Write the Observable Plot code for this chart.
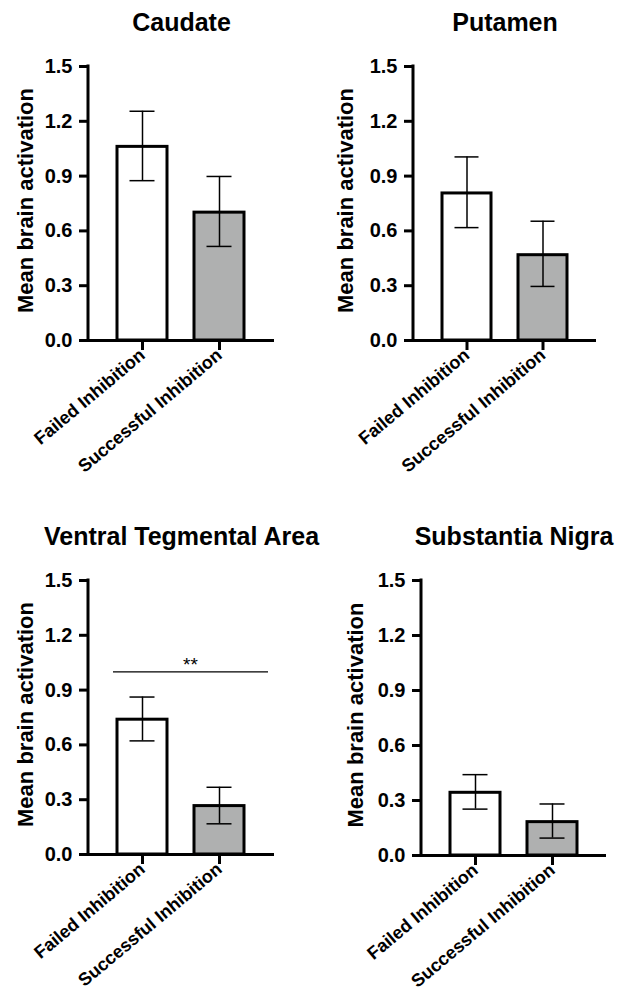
<!DOCTYPE html>
<html><head><meta charset="utf-8">
<script src="https://cdn.jsdelivr.net/npm/d3@7"></script>
<script src="https://cdn.jsdelivr.net/npm/@observablehq/plot@0.6"></script>
<style>
body{margin:0;background:#fff;font-family:"Liberation Sans",Arial,sans-serif;}
#grid{position:relative;width:618px;height:992px;}
.panel{position:absolute;width:309px;height:496px;}
.panel svg{overflow:visible;background:transparent;}
</style></head><body><div id="grid"></div>
<script>
// ---- data ----
const regions = ["Caudate", "Putamen", "Ventral Tegmental Area", "Substantia Nigra"];
const conditions = ["Failed Inhibition", "Successful Inhibition"];
const conditionFills = ["#ffffff", "#afb0b0"];
const caudateMean = [1.06, 0.70];
const caudateLow = [0.875, 0.515];
const caudateHigh = [1.255, 0.898];
const putamenMean = [0.805, 0.467];
const putamenLow = [0.618, 0.296];
const putamenHigh = [1.005, 0.653];
const vtaMean = [0.738, 0.265];
const vtaLow = [0.622, 0.168];
const vtaHigh = [0.862, 0.368];
const snMean = [0.342, 0.182];
const snLow = [0.253, 0.095];
const snHigh = [0.441, 0.281];
const yTicks = [0, 0.3, 0.6, 0.9, 1.2, 1.5];
const yLabel = "Mean brain activation";
const significance = [null, null, {y: 1.0, label: "**"}, null];

const means = [caudateMean, putamenMean, vtaMean, snMean];
const lows = [caudateLow, putamenLow, vtaLow, snLow];
const highs = [caudateHigh, putamenHigh, vtaHigh, snHigh];

// ---- layout ----
const layout = [
  {left: 0,   top: 0,   mL: 88,  mR: 35, mT: 66, mB: 156, labelDx: -63},
  {left: 309, top: 0,   mL: 104, mR: 22, mT: 66, mB: 156, labelDx: -68},
  {left: 0,   top: 496, mL: 88,  mR: 35, mT: 84, mB: 138, labelDx: -63},
  {left: 309, top: 496, mL: 112, mR: 12, mT: 84, mB: 137, labelDx: -66}
];

const grid = document.getElementById("grid");

regions.forEach((region, i) => {
  const data = conditions.map((c, j) => ({
    condition: c, mean: means[i][j], low: lows[i][j], high: highs[i][j], fill: conditionFills[j]
  }));
  const L = layout[i];
  const sig = significance[i];
  const yAxisLine = (index, scales, values, dimensions) => {
    const ns = "http://www.w3.org/2000/svg";
    const g = document.createElementNS(ns, "g");
    const ln = document.createElementNS(ns, "line");
    ln.setAttribute("x1", dimensions.marginLeft);
    ln.setAttribute("x2", dimensions.marginLeft);
    ln.setAttribute("y1", scales.y(yTicks[yTicks.length - 1]) - 1.5);
    ln.setAttribute("y2", scales.y(0) + 1.5);
    ln.setAttribute("stroke", "black");
    ln.setAttribute("stroke-width", 3);
    g.appendChild(ln);
    return g;
  };
  const marks = [
    Plot.barY(data, {x: "condition", y: "mean", fill: "fill", stroke: "black", strokeWidth: 3}),
    Plot.ruleX(data, {x: "condition", y1: "low", y2: "high", stroke: "black", strokeWidth: 1.5}),
    Plot.tickY(data, {x: "condition", y: "high", stroke: "black", strokeWidth: 1.5, insetLeft: 12.5, insetRight: 12.5}),
    Plot.tickY(data, {x: "condition", y: "low", stroke: "black", strokeWidth: 1.5, insetLeft: 12.5, insetRight: 12.5}),
    Plot.ruleY([0], {stroke: "black", strokeWidth: 3}),
    yAxisLine,
    Plot.axisY({ticks: yTicks, tickSize: 9, tickPadding: 7, tickFormat: d3.format(".1f"),
      fontSize: 20, fontWeight: "bold", strokeWidth: 3, fill: "black", stroke: "black", label: null}),
    Plot.axisX({tickSize: 10, tickPadding: 2, strokeWidth: 3, tickRotate: -40, fontSize: 18,
      fontWeight: "bold", fill: "black", stroke: "black", label: null}),
    Plot.text([region], {frameAnchor: "top", dy: -44, fontSize: 25, fontWeight: "bold", fill: "black", lineAnchor: "middle"}),
    Plot.text([yLabel], {frameAnchor: "left", dx: L.labelDx, dy: -3, rotate: -90, fontSize: 22, fontWeight: "bold", fill: "black", lineAnchor: "middle", textAnchor: "middle"})
  ];
  if (sig) {
    marks.push(Plot.ruleY([sig.y], {stroke: "black", strokeWidth: 1.2, insetLeft: 25, insetRight: 6}));
    marks.push(Plot.text([sig.label], {y: () => sig.y, frameAnchor: "middle", dx: 9, dy: -7, fontSize: 19, fill: "black"}));
  }
  const chart = Plot.plot({
    width: 309, height: 496,
    marginLeft: L.mL, marginRight: L.mR, marginTop: L.mT, marginBottom: L.mB,
    style: {fontFamily: "'Liberation Sans', Arial, sans-serif", background: "transparent", overflow: "visible", color: "black"},
    x: {domain: conditions, paddingInner: 0.35, paddingOuter: 0.37, axis: null},
    y: {domain: [0, 1.5], axis: null},
    color: {type: "identity"},
    marks
  });
  const div = document.createElement("div");
  div.className = "panel";
  div.style.left = L.left + "px";
  div.style.top = L.top + "px";
  div.appendChild(chart);
  grid.appendChild(div);
});
</script>
</body></html>
